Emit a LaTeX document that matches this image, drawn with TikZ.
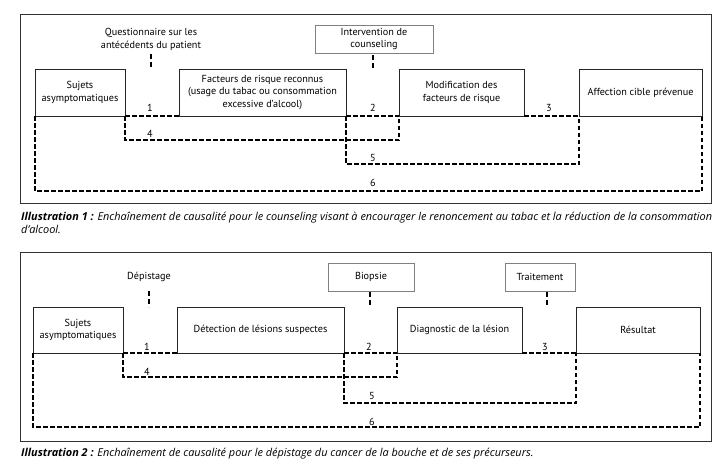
\documentclass[tikz,border=0pt]{standalone}
\usepackage{fontspec}
\setmainfont{PT Sans}
\newfontfamily\capfont{Open Sans}
\newcommand{\fsz}{\fontsize{10.2}{12.5}\selectfont}
\newcommand{\capfsz}{\capfont\fontsize{10.9}{12.5}\selectfont\itshape}
\begin{document}
\begin{tikzpicture}[x=1pt,y=-1pt,
  box/.style={draw=black!85, line width=0.8pt, inner sep=1pt, align=center, font=\fsz, outer sep=0pt},
  lbox/.style={draw=black!50, line width=0.7pt, inner sep=1pt, align=center, font=\fsz, outer sep=0pt},
  ltext/.style={inner sep=2.5pt, align=center, font=\fsz, outer sep=0pt},
  frame/.style={draw=black!80, line width=0.9pt},
  dl/.style={draw=black, line width=1.2pt, dash pattern=on 4.5pt off 2.5pt},
  stub/.style={draw=black, line width=1.2pt, dash pattern=on 5pt off 3pt},
  num/.style={font=\fsz, inner sep=0pt},
  captext/.style={anchor=north west, text width=691pt, align=justify, font=\capfsz, inner sep=0pt}]
\useasboundingbox (0,0) rectangle (724,474);
\fill[white] (0,0) rectangle (724,474);

% ---------- Panel 1 ----------
\draw[frame] (20,14) rectangle (711,203);
\node[box, minimum width=90pt, minimum height=47pt] (s1) at (80,92.5) {Sujets\\asymptomatiques};
\node[box, minimum width=167pt, minimum height=47pt] (f1) at (262.5,92.5) {Facteurs de risque reconnus\\(usage du tabac ou consommation\\excessive d’alcool)};
\node[box, minimum width=125pt, minimum height=47pt] (m1) at (461.5,92.5) {Modification des\\facteurs de risque};
\node[box, minimum width=123pt, minimum height=47pt] (a1) at (640.5,92.5) {Affection cible prévenue};

\node[ltext] (q1) at (151,39.5) {Questionnaire sur les\\antécédents du patient};
\node[lbox, minimum width=118pt, minimum height=28pt] (i1) at (374,39) {Intervention de\\counseling};
\coordinate (q1e) at (151,68);
\coordinate (i1e) at (373,68);
\draw[stub] ([yshift=-1pt]q1.south) -- (q1e);
\draw[stub] ([xshift=-1pt,yshift=-2pt]i1.south) -- (i1e);

\draw[dl] (s1.south east) -- (f1.south west);
\draw[dl] (f1.south east) -- (m1.south west);
\draw[dl] (m1.south east) -- (a1.south west);
\draw[dl] (s1.south east) -- ++(0,24) -| (m1.south west);
\draw[dl] (f1.south east) -- ++(0,48) -| (a1.south west);
\draw[dl] (s1.south west) -- ++(0,75) -| (a1.south east);

\node[num] (n11) at (150,108) {1};
\node[num] (n12) at (373,108) {2};
\node[num] (n13) at (549,108) {3};
\node[num] (n14) at (150,134) {4};
\node[num] (n15) at (373,158) {5};
\node[num] (n16) at (373,183) {6};

\node[captext] (c1) at (21,212) {\textbf{Illustration 1 :} Enchaînement de causalité pour le counseling visant à encourager le renoncement au tabac et la réduction de la consommation\linebreak d’alcool.};

% ---------- Panel 2 ----------
\draw[frame] (20,252) rectangle (711,441);
\node[box, minimum width=90pt, minimum height=46pt] (s2) at (78,330) {Sujets\\asymptomatiques};
\node[box, minimum width=167pt, minimum height=46pt] (d2) at (260.5,330) {Détection de lésions suspectes};
\node[box, minimum width=125pt, minimum height=46pt] (g2) at (459.5,330) {Diagnostic de la lésion};
\node[box, minimum width=124pt, minimum height=46pt] (r2) at (638,330) {Résultat};

\node[ltext] (dp) at (149,277) {Dépistage};
\node[lbox, minimum width=86pt, minimum height=28pt] (bp) at (371,277) {Biopsie};
\node[lbox, minimum width=70pt, minimum height=28pt] (tr) at (540,277) {Traitement};
\coordinate (dpa) at (149,291);
\coordinate (dpe) at (149,307);
\coordinate (bpe) at (370,307);
\coordinate (tra) at (547,292);
\coordinate (tre) at (547,307);
\draw[stub] (dpa) -- (dpe);
\draw[stub] ([xshift=-1pt,yshift=-1pt]bp.south) -- (bpe);
\draw[stub] (tra) -- (tre);

\draw[dl] (s2.south east) -- (d2.south west);
\draw[dl] (d2.south east) -- (g2.south west);
\draw[dl] (g2.south east) -- (r2.south west);
\draw[dl] (s2.south east) -- ++(0,24) -| (g2.south west);
\draw[dl] (d2.south east) -- ++(0,50) -| (r2.south west);
\draw[dl] (s2.south west) -- ++(0,74) -| (r2.south east);

\node[num] (n21) at (147,347) {1};
\node[num] (n22) at (369,347) {2};
\node[num] (n23) at (545,347) {3};
\node[num] (n24) at (147,372) {4};
\node[num] (n25) at (372,396) {5};
\node[num] (n26) at (372,422) {6};

\node[captext] (c2) at (21,448) {\textbf{Illustration 2 :} Enchaînement de causalité pour le dépistage du cancer de la bouche et de ses précurseurs.};
\end{tikzpicture}
\end{document}
